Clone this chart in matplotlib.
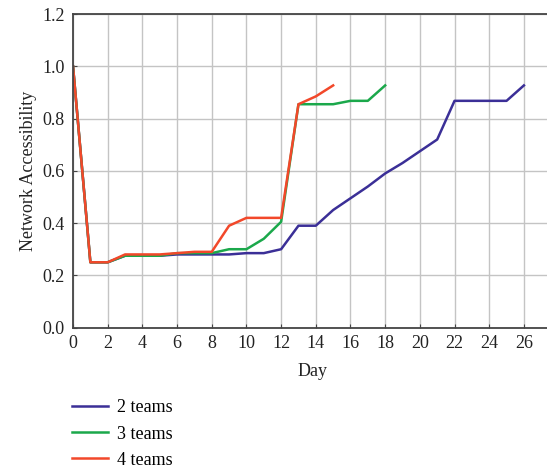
import numpy as np
import matplotlib.pyplot as plt

plt.rcParams['font.family'] = ['Liberation Serif', 'DejaVu Serif']

# Network accessibility per day for each team count
days_2 = list(range(0, 27))
acc_2 = [1.0, 0.25, 0.25, 0.275, 0.275, 0.275, 0.28, 0.28, 0.28, 0.28,
         0.285, 0.285, 0.30, 0.39, 0.39, 0.45, 0.495, 0.54, 0.59, 0.63,
         0.675, 0.72, 0.868, 0.868, 0.868, 0.868, 0.927]

days_3 = list(range(0, 19))
acc_3 = [1.0, 0.25, 0.25, 0.275, 0.275, 0.275, 0.285, 0.285, 0.285, 0.30,
         0.30, 0.34, 0.405, 0.855, 0.855, 0.855, 0.868, 0.868, 0.927]

days_4 = list(range(0, 16))
acc_4 = [1.0, 0.25, 0.25, 0.28, 0.28, 0.28, 0.285, 0.29, 0.29, 0.39,
         0.42, 0.42, 0.42, 0.855, 0.885, 0.927]

labels = ['2 teams', '3 teams', '4 teams']
colors = ['#3b2f97', '#1ba84b', '#f2482a']

fig = plt.figure(figsize=(5.47, 4.70), dpi=100)
ax = fig.add_axes([0.1335, 0.303, 0.875, 0.667])

ax.plot(days_2, acc_2, color=colors[0], lw=1.8, label=labels[0])
ax.plot(days_3, acc_3, color=colors[1], lw=1.8, label=labels[1])
ax.plot(days_4, acc_4, color=colors[2], lw=1.8, label=labels[2])

ax.set_xlim(0, 27.6)
ax.set_ylim(0, 1.2)
ax.set_xticks(np.arange(0, 27, 2))
ax.set_yticks(np.arange(0, 1.21, 0.2))
ax.set_yticklabels([f'{v:.1f}' for v in np.arange(0, 1.21, 0.2)])
ax.grid(True, color='#c4c4c4', lw=1.0)
ax.set_axisbelow(True)
ax.tick_params(direction='in', length=3, color='#444444', labelsize=13, colors='#222222')
ax.tick_params(axis='x', pad=5)
ax.tick_params(axis='y', pad=6)
for side in ['left', 'bottom', 'top']:
    ax.spines[side].set_color('#444444')
    ax.spines[side].set_linewidth(1.3)
ax.spines['right'].set_visible(False)

ax.set_xlabel('Day', fontsize=13, color='#222222', labelpad=8)
ax.set_ylabel('Network Accessibility', fontsize=13, color='#222222', labelpad=4)

fig.legend(loc='upper left', bbox_to_anchor=(0.131, 0.150), frameon=False,
           fontsize=13, handlelength=2.0, handletextpad=0.5, labelspacing=0.5,
           borderpad=0, borderaxespad=0)

fig.savefig('out.png', dpi=100)
